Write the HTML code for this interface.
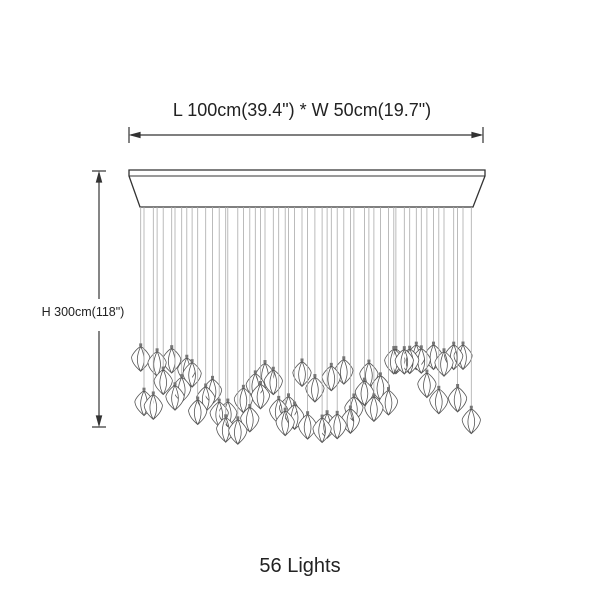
<!DOCTYPE html>
<html><head><meta charset="utf-8"><style>
body{margin:0;background:#fff;width:600px;height:600px;overflow:hidden}
svg{display:block}
</style></head><body>
<svg id="s" width="600" height="600" viewBox="0 0 600 600" xmlns="http://www.w3.org/2000/svg">
<text x="302" y="116" text-anchor="middle" font-family="Liberation Sans, sans-serif" font-size="18" fill="#222">L 100cm(39.4") * W 50cm(19.7")</text>
<g stroke="#333" stroke-width="1.2" fill="#333">
<line x1="129" y1="127" x2="129" y2="143"/><line x1="483" y1="127" x2="483" y2="143"/>
<line x1="131" y1="135" x2="481" y2="135"/>
<path d="M131 135 l9 -2.5 v5z"/><path d="M481 135 l-9 -2.5 v5z"/>
<line x1="92" y1="171" x2="106" y2="171"/><line x1="92" y1="427" x2="106" y2="427"/>
<line x1="99" y1="173" x2="99" y2="299"/><line x1="99" y1="331" x2="99" y2="425"/>
<path d="M99 173 l-2.5 9 h5z"/><path d="M99 425 l-2.5 -9 h5z"/>
</g>
<text x="83" y="316" text-anchor="middle" font-family="Liberation Sans, sans-serif" font-size="12.5" fill="#222">H 300cm(118")</text>
<path d="M129 170 H485 V176 L473 207 H140 L129 176 Z" fill="#fff" stroke="#333" stroke-width="1.3"/>
<line x1="129" y1="176" x2="485" y2="176" stroke="#333" stroke-width="1.1"/>
<g id="p"></g>
<text x="300" y="572" text-anchor="middle" font-family="Liberation Sans, sans-serif" font-size="20" fill="#222">56 Lights</text>
</svg>
<script>
var seed=11;function r(){seed=(seed*9301+49297)%233280;return seed/233280;}
function bottom(x){
 if(x<240)return 420+(x-135)*0.25;
 if(x<330)return 447-(x-240)*0.05;
 if(x<420)return 443-(x-330)*0.45;
 return 403+(x-420)*0.6;}
var g=document.getElementById('p'),h='';
var pts=[];
for(var i=0;i<56;i++){
 var x=140+i*6+ (r()-0.5)*5;
 var b=bottom(x);
 var y=b-27-Math.pow(r(),1.6)*70;
 if(y<342)y=342+r()*8;
 pts.push([x,y]);
}
pts.sort(function(a,b){return a[1]-b[1]});
pts.forEach(function(p){
 var x=p[0].toFixed(1),y=p[1];
 h+='<line x1="'+x+'" y1="207" x2="'+x+'" y2="'+y+'" stroke="#aaa" stroke-width="0.8"/>';
 var t=y+2,m=y+14,bt=y+27;
 h+='<path transform="translate('+x+',0)" d="M0 '+t+' C-5 '+(t+3)+' -10 '+(m-2)+' -9 '+m+' C-8 '+(m+6)+' -3 '+(bt-3)+' 0 '+bt+' C3 '+(bt-3)+' 8 '+(m+6)+' 9 '+m+' C10 '+(m-2)+' 5 '+(t+3)+' 0 '+t+' Z M0 '+t+' C-4 '+(m-3)+' -5 '+(m+4)+' 0 '+bt+' M0 '+t+' C4 '+(m-3)+' 5 '+(m+4)+' 0 '+bt+'" fill="#fff" stroke="#555" stroke-width="0.8"/>';
 h+='<rect x="'+(p[0]-1.5).toFixed(1)+'" y="'+(y-1)+'" width="3" height="3" fill="#777"/>';
});
g.innerHTML=h;
</script>
</body></html>
